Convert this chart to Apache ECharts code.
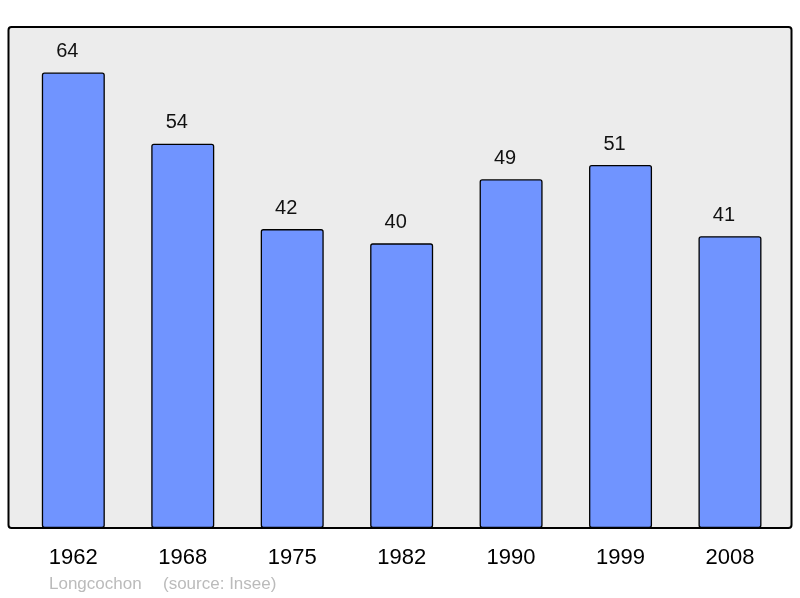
<!DOCTYPE html>
<html><head><meta charset="utf-8">
<script src="https://cdn.jsdelivr.net/npm/echarts@6/dist/echarts.min.js"></script>
<style>html,body{margin:0;padding:0;background:#fff}#c{width:800px;height:598px}</style>
</head><body><div id="c"></div>
<script>
const years = ['1962','1968','1975','1982','1990','1999','2008'];
const population = [64, 54, 42, 40, 49, 51, 41];
const footerName = 'Longcochon';
const footerSource = '(source: Insee)';

const FONT = '"Liberation Sans", Arial, sans-serif';
const chart = echarts.init(document.getElementById('c'), null, {renderer: 'canvas'});
chart.setOption({
  animation: false,
  backgroundColor: '#ffffff',
  graphic: [
    {type: 'rect', z: -10, shape: {x: 8.5, y: 27, width: 783, height: 501, r: 3},
     style: {fill: '#ececec', stroke: '#000', lineWidth: 2}},
    {type: 'text', x: 49, y: 584, z: 10,
     style: {text: footerName, fill: '#bbbbbb', font: '17px ' + FONT, textVerticalAlign: 'middle', verticalAlign: 'middle'}},
    {type: 'text', x: 163, y: 584, z: 10,
     style: {text: footerSource, fill: '#bbbbbb', font: '17px ' + FONT, textVerticalAlign: 'middle', verticalAlign: 'middle'}}
  ],
  grid: {left: 18.6, right: 15.3, top: 27, bottom: 70, containLabel: false},
  xAxis: {
    type: 'category', data: years,
    axisLine: {show: false}, axisTick: {show: false},
    axisLabel: {color: '#000', fontSize: 22, fontFamily: FONT, margin: 19}
  },
  yAxis: {type: 'value', min: 0, max: 70.4, show: false, splitLine: {show: false}},
  series: [{
    type: 'bar', data: population, barWidth: 63,
    itemStyle: {color: '#7094ff', borderColor: '#000', borderWidth: 1.3, borderRadius: 2},
    label: {show: true, position: 'top', distance: 11, offset: [-6, 0], color: '#111', fontSize: 20,
            fontFamily: FONT}
  }]
});
</script></body></html>
